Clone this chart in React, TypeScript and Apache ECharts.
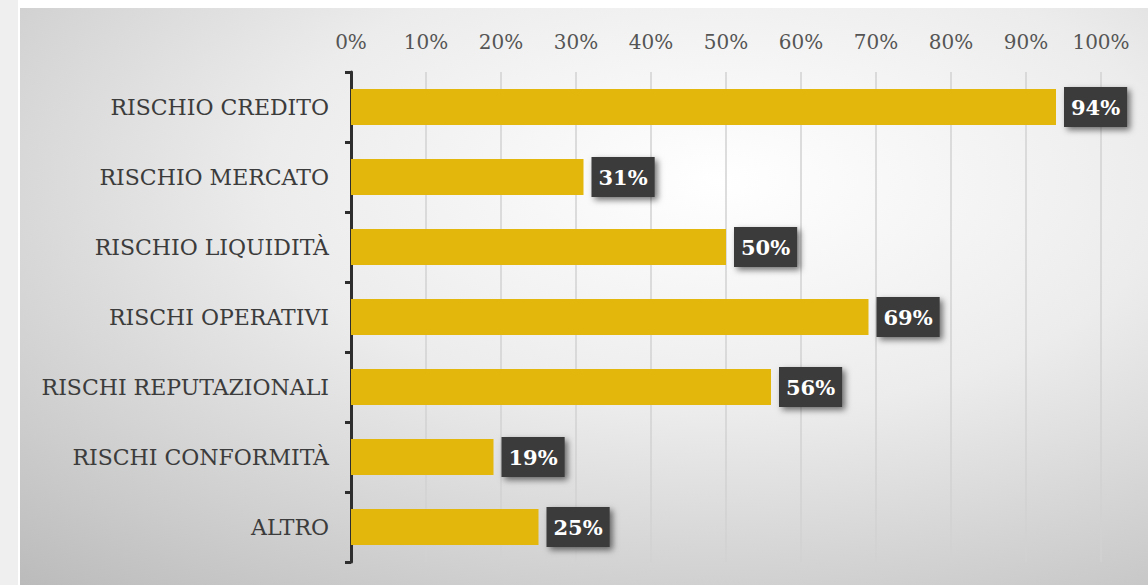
import React, { useEffect, useRef } from "react";
import * as echarts from "echarts";

const categories = [
  "RISCHIO CREDITO",
  "RISCHIO MERCATO",
  "RISCHIO LIQUIDITÀ",
  "RISCHI OPERATIVI",
  "RISCHI REPUTAZIONALI",
  "RISCHI CONFORMITÀ",
  "ALTRO",
];
const values = [94, 31, 50, 69, 56, 19, 25];

const FONT = "'DejaVu Serif', 'Liberation Serif', serif";

export default function App() {
  const ref = useRef<HTMLDivElement>(null);
  useEffect(() => {
    document.body.style.margin = "0";
    const chart = echarts.init(ref.current!, null, { renderer: "svg" });
    chart.setOption({
      animation: false,
      graphic: [
        {
          type: "rect",
          z: -10,
          silent: true,
          shape: { x: 0, y: 0, width: 18, height: 585 },
          style: { fill: "#efefef" },
        },
        {
          type: "rect",
          z: -10,
          silent: true,
          shape: { x: 20, y: 8, width: 1128, height: 577 },
          style: {
            fill: new echarts.graphic.RadialGradient(0.62, 0.3, 1.0, [
              { offset: 0, color: "#ffffff" },
              { offset: 0.4, color: "#ececec" },
              { offset: 1, color: "#b5b5b5" },
            ]),
          },
        },
      ],
      grid: { left: 351, right: 47, top: 72, bottom: 23, containLabel: false },
      xAxis: {
        type: "value",
        position: "top",
        min: 0,
        max: 100,
        interval: 10,
        axisLine: { show: false },
        axisTick: { show: false },
        axisLabel: {
          formatter: "{value}%",
          color: "#555555",
          fontFamily: FONT,
          fontSize: 20,
          margin: 20,
        },
        splitLine: { show: true, lineStyle: { color: "#d2d2d2", width: 1.5 } },
      },
      yAxis: {
        type: "category",
        inverse: true,
        data: categories,
        axisLine: { show: true, lineStyle: { color: "#2e2e2e", width: 3 } },
        axisTick: { show: true, length: 6, lineStyle: { color: "#2e2e2e", width: 3 } },
        axisLabel: {
          color: "#3c3c3c",
          fontFamily: FONT,
          fontSize: 22,
          margin: 22,
        },
        splitLine: { show: false },
      },
      series: [
        {
          type: "bar",
          data: values,
          barWidth: 36,
          itemStyle: { color: "#E3B70C" },
          label: {
            show: true,
            position: "right",
            distance: 8,
            formatter: "{c}%",
            color: "#ffffff",
            fontFamily: FONT,
            fontWeight: "bold",
            fontSize: 21,
            backgroundColor: "#3a3a3a",
            padding: [10, 7, 9, 7],
            shadowColor: "rgba(0,0,0,0.55)",
            shadowBlur: 6,
            shadowOffsetX: 3,
            shadowOffsetY: 3,
          },
        },
      ],
    });
    return () => chart.dispose();
  }, []);
  return <div ref={ref} style={{ width: 1148, height: 585 }} />;
}
